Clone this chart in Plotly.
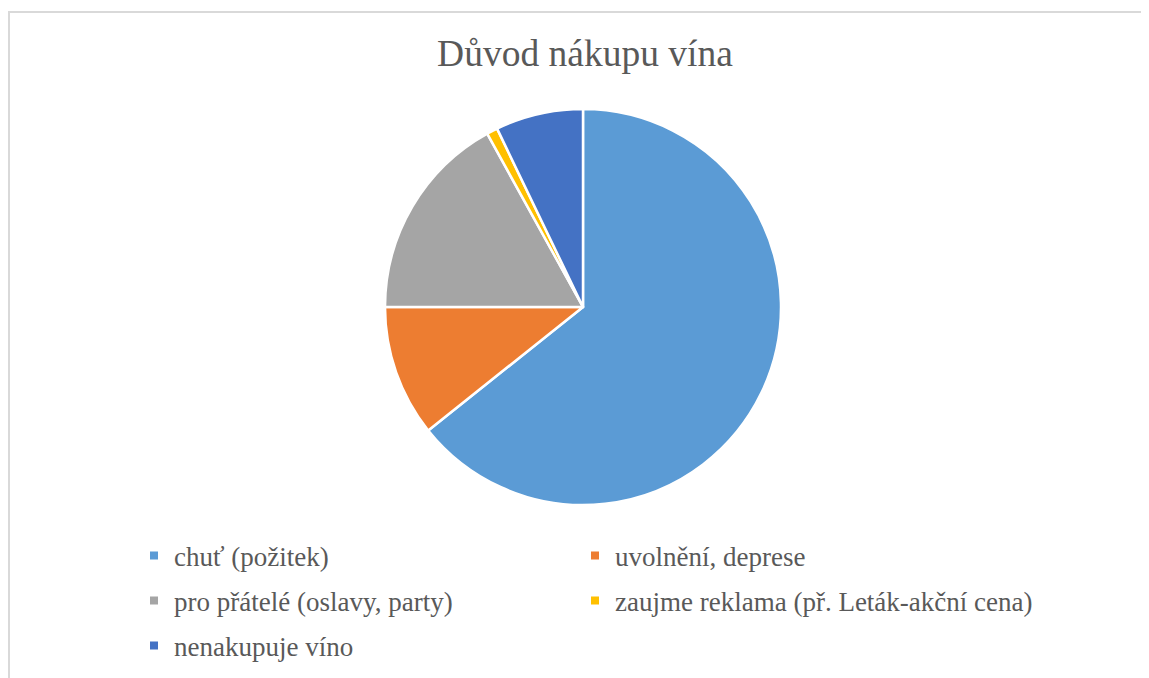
import plotly.graph_objects as go

# ---- data ----
categories = [
    "chuť (požitek)",
    "uvolnění, deprese",
    "pro přátelé (oslavy, party)",
    "zaujme reklama (př. Leták-akční cena)",
    "nenakupuje víno",
]
counts = [72, 12, 19, 1, 8]
colors = ["#5B9BD5", "#ED7D31", "#A5A5A5", "#FFC000", "#4472C4"]

W, H = 1149, 678
FONT = "Liberation Serif"
TXT = "#595959"
OFF = 8  # page body margin offset in the browser

fig = go.Figure()

# pie centred at (583, 307) px on the page with radius ~198 px
cx, cy, r = 583 - OFF, 307 - OFF, 198
fig.add_trace(go.Pie(
    labels=categories,
    values=counts,
    sort=False,
    direction="clockwise",
    rotation=0,
    marker=dict(colors=colors, line=dict(color="white", width=2.5)),
    textinfo="none",
    hoverinfo="label+value+percent",
    showlegend=False,
    domain=dict(x=[(cx - r) / W, (cx + r) / W],
                y=[1 - (cy + r) / H, 1 - (cy - r) / H]),
))

# legend: two columns, three rows; one native legend per entry
col_x = [126, 567]
row_y = [548, 593, 638]
legend_ids = ["legend", "legend2", "legend3", "legend4", "legend5"]
layout_legends = {}
for i, (name, col, lg) in enumerate(zip(categories, colors, legend_ids)):
    fig.add_trace(go.Scatter(
        x=[None], y=[None], mode="markers", name=name,
        marker=dict(symbol="square", size=8, color=col),
        legend=lg, showlegend=True, hoverinfo="skip",
    ))
    layout_legends[lg] = dict(
        orientation="h", xanchor="left", yanchor="middle",
        x=col_x[i % 2] / W, y=1 - row_y[i // 2] / H,
        font=dict(family=FONT, size=27, color=TXT),
        bgcolor="rgba(0,0,0,0)", borderwidth=0,
        itemclick=False, itemdoubleclick=False,
    )

fig.update_layout(
    width=W, height=H,
    margin=dict(l=0, r=0, t=0, b=0),
    paper_bgcolor="white", plot_bgcolor="white",
    xaxis=dict(visible=False), yaxis=dict(visible=False),
    title=dict(text="Důvod nákupu vína", x=(585 - OFF) / W, xanchor="center",
               y=1 - 45 / H, yanchor="middle",
               font=dict(family=FONT, size=37.5, color=TXT)),
    shapes=[dict(type="rect", xref="paper", yref="paper",
                 x0=1 / W, x1=1.05, y0=-0.05, y1=1 - 4 / H,
                 line=dict(color="#D9D9D9", width=2), fillcolor="rgba(0,0,0,0)",
                 layer="below")],
    **layout_legends,
)

fig.write_html("out.html")
